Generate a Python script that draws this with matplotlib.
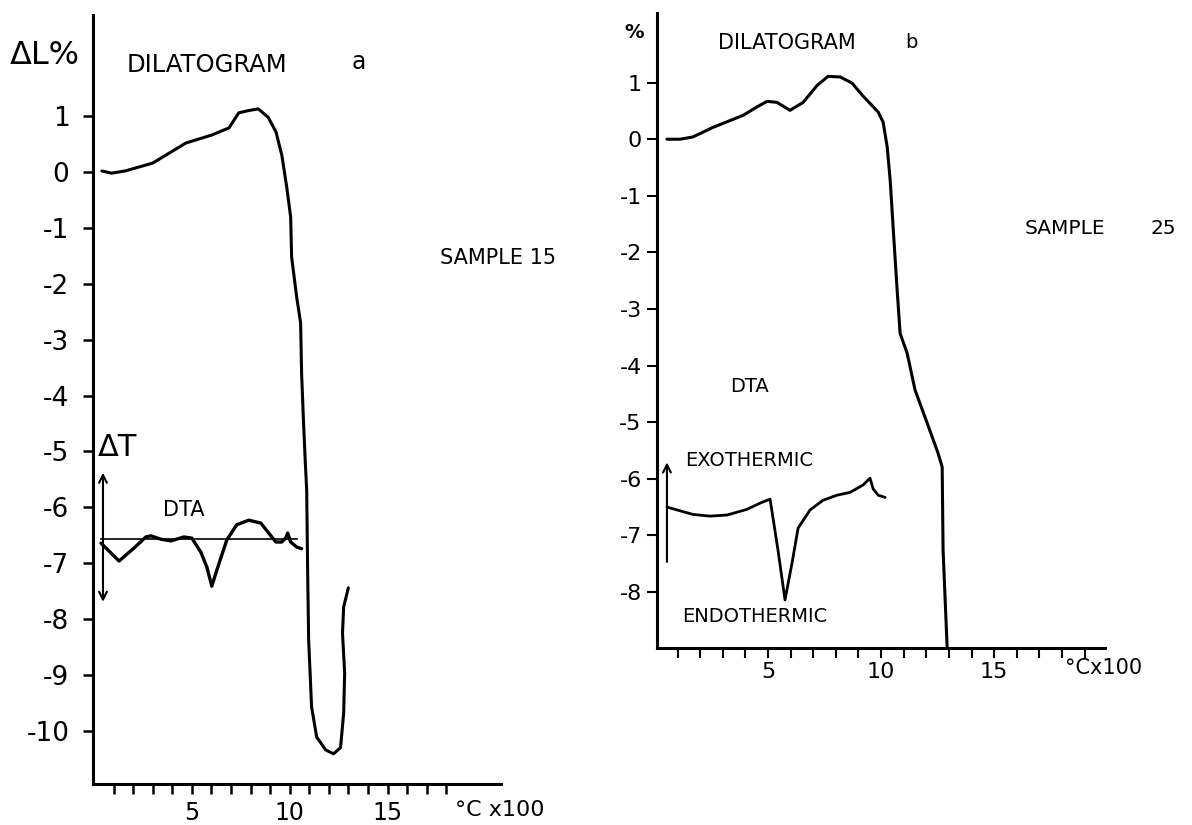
import matplotlib
matplotlib.use("Agg")
import matplotlib.pyplot as plt

plt.rcParams['font.family'] = ['DejaVu Sans']

# ---------------- data: panel a (sample 15) ----------------
dil_a_x = [0.4, 0.9, 1.6, 3.0, 4.7, 6.0, 6.9, 7.4, 7.9, 8.4, 8.9, 9.3, 9.6, 9.85,
           10.05, 10.1, 10.36, 10.56, 10.61, 10.71, 10.8, 10.87, 10.92, 10.97,
           11.12, 11.38, 11.84, 12.24, 12.6, 12.76, 12.81, 12.7, 12.76, 13.0]
dil_a_y = [0.02, -0.02, 0.02, 0.16, 0.52, 0.66, 0.79, 1.06, 1.10, 1.13, 0.98, 0.72,
           0.30, -0.27, -0.80, -1.52, -2.24, -2.70, -3.60, -4.49, -5.2, -5.69, -7.17,
           -8.37, -9.57, -10.11, -10.34, -10.41, -10.30, -9.68, -8.96, -8.25, -7.78, -7.44]

dta_a_x = [0.36, 1.28, 2.04, 2.65, 2.91, 3.42, 3.93, 4.59, 5.0, 5.46, 5.77, 6.02,
           6.28, 6.79, 7.30, 7.91, 8.52, 8.93, 9.29, 9.59, 9.80, 9.90, 10.05, 10.36, 10.61]
dta_a_y = [-6.64, -6.96, -6.73, -6.53, -6.51, -6.57, -6.60, -6.53, -6.55, -6.80,
           -7.07, -7.41, -7.12, -6.58, -6.31, -6.23, -6.28, -6.46, -6.62, -6.62,
           -6.55, -6.46, -6.62, -6.71, -6.74]
dta_a_base_x = [0.36, 10.4]
dta_a_base_y = [-6.57, -6.57]

yticks_a = [1, 0, -1, -2, -3, -4, -5, -6, -7, -8, -9, -10]
ylabels_a = ['1', '0', '-1', '-2', '-3', '-4', '-5', '-6', '-7', '-8', '-9', '-10']
xticks_a = list(range(1, 19))
xlabels_a = {5: '5', 10: '10', 15: '15'}

# ---------------- data: panel b (sample 25) ----------------
dil_b_x = [0.53, 1.11, 1.68, 2.57, 3.89, 4.51, 4.96, 5.40, 5.97, 6.55, 7.17, 7.65,
           8.19, 8.72, 9.16, 9.87, 10.09, 10.27, 10.4, 10.53, 10.7, 10.84, 11.15,
           11.5, 12.04, 12.52, 12.7, 12.74, 12.92]
dil_b_y = [0.0, 0.0, 0.04, 0.21, 0.42, 0.57, 0.67, 0.65, 0.51, 0.65, 0.95, 1.11,
           1.10, 0.99, 0.78, 0.48, 0.30, -0.14, -0.72, -1.55, -2.61, -3.43, -3.78,
           -4.43, -5.02, -5.55, -5.79, -7.26, -8.98]

dta_b_x = [0.53, 0.97, 1.68, 2.43, 3.19, 4.07, 4.65, 5.09, 5.44, 5.75, 6.06, 6.33,
           6.86, 7.43, 8.05, 8.63, 9.20, 9.51, 9.65, 9.87, 10.18]
dta_b_y = [-6.50, -6.55, -6.63, -6.66, -6.64, -6.54, -6.43, -6.36, -7.26, -8.14,
           -7.49, -6.87, -6.55, -6.38, -6.29, -6.24, -6.11, -5.99, -6.18, -6.29, -6.33]

yticks_b = [1, 0, -1, -2, -3, -4, -5, -6, -7, -8]
ylabels_b = ['1', '0', '-1', '-2', '-3', '-4', '-5', '-6', '-7', '-8']
xticks_b = list(range(1, 20))
xlabels_b = {5: '5', 10: '10', 15: '15'}

W, H = 1192, 825
fig = plt.figure(figsize=(W / 100, H / 100), dpi=100)


def fx(px):
    return px / W


def fy(py):
    return 1 - py / H


def style_axes(ax, lw):
    for s in ('top', 'right'):
        ax.spines[s].set_visible(False)
    for s in ('left', 'bottom'):
        ax.spines[s].set_linewidth(lw)
        ax.spines[s].set_color('black')


# ---------- panel a ----------
ax1 = fig.add_axes([fx(93), fy(784), fx(501) - fx(93), fy(15) - fy(784)])
ax1.set_xlim(-0.05, 20.8)
ax1.set_ylim(-10.95, 2.81)
style_axes(ax1, 2.2)
ax1.plot(dil_a_x, dil_a_y, color='black', lw=2.2, solid_capstyle='round')
ax1.plot(dta_a_x, dta_a_y, color='black', lw=2.4, solid_capstyle='round')
ax1.plot(dta_a_base_x, dta_a_base_y, color='black', lw=1.2)
ax1.set_yticks(yticks_a)
ax1.set_yticklabels(ylabels_a)
ax1.set_xticks(xticks_a)
ax1.set_xticklabels([xlabels_a.get(t, '') for t in xticks_a])
ax1.tick_params(axis='y', direction='out', length=7, width=1.8, pad=10, labelsize=19)
ax1.tick_params(axis='x', direction='out', length=7, width=1.8, pad=5, labelsize=17)
ax1.annotate('', xy=(0.46, -5.38), xytext=(0.46, -7.69),
             arrowprops=dict(arrowstyle='<->', color='black', lw=1.5,
                             mutation_scale=14, shrinkA=0, shrinkB=0))

fig.text(fx(10), fy(56), 'ΔL%', fontsize=23, ha='left', va='center')
fig.text(fx(127), fy(65), 'DILATOGRAM', fontsize=17.5, ha='left', va='center')
fig.text(fx(352), fy(62), 'a', fontsize=17, ha='left', va='center')
fig.text(fx(440), fy(258), 'SAMPLE 15', fontsize=15, ha='left', va='center')
fig.text(fx(98), fy(447), 'ΔT', fontsize=22, ha='left', va='center')
fig.text(fx(163), fy(510), 'DTA', fontsize=15, ha='left', va='center')
fig.text(fx(455), fy(810), '°C x100', fontsize=16, ha='left', va='center')

# ---------- panel b ----------
ax2 = fig.add_axes([fx(657), fy(648), fx(1105) - fx(657), fy(13) - fy(648)])
ax2.set_xlim(0.09, 19.9)
ax2.set_ylim(-8.99, 2.23)
style_axes(ax2, 2.2)
ax2.plot(dil_b_x, dil_b_y, color='black', lw=2.2, solid_capstyle='round')
ax2.plot(dta_b_x, dta_b_y, color='black', lw=2.0, solid_capstyle='round')
ax2.set_yticks(yticks_b)
ax2.set_yticklabels(ylabels_b)
ax2.set_xticks(xticks_b)
ax2.set_xticklabels([xlabels_b.get(t, '') for t in xticks_b])
ax2.tick_params(axis='y', direction='out', length=7, width=1.5, pad=4, labelsize=16)
ax2.tick_params(axis='x', direction='out', length=7, width=1.5, pad=3, labelsize=16)
ax2.annotate('', xy=(0.53, -5.71), xytext=(0.53, -7.47),
             arrowprops=dict(arrowstyle='->', color='black', lw=1.5,
                             mutation_scale=14, shrinkA=0, shrinkB=0))

fig.text(fx(624), fy(32), '%', fontsize=14, ha='left', va='center', fontweight='bold')
fig.text(fx(718), fy(43), 'DILATOGRAM', fontsize=15, ha='left', va='center')
fig.text(fx(905), fy(42), 'b', fontsize=14, ha='left', va='center')
fig.text(fx(1025), fy(228), 'SAMPLE', fontsize=14.5, ha='left', va='center')
fig.text(fx(1150), fy(228), '25', fontsize=14.5, ha='left', va='center')
fig.text(fx(730), fy(387), 'DTA', fontsize=14, ha='left', va='center')
fig.text(fx(685), fy(460), 'EXOTHERMIC', fontsize=14, ha='left', va='center')
fig.text(fx(682), fy(617), 'ENDOTHERMIC', fontsize=14, ha='left', va='center')
fig.text(fx(1065), fy(668), '°Cx100', fontsize=15, ha='left', va='center')

fig.savefig('out.png', dpi=100)
